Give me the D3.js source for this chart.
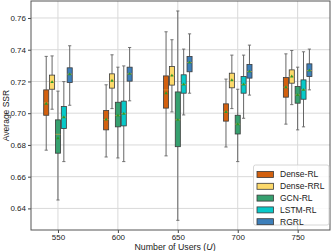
<!DOCTYPE html>
<html>
<head>
<meta charset="utf-8">
<script src="https://cdn.jsdelivr.net/npm/d3@7"></script>
<style>
  body { margin: 0; background: #fff; }
  svg { font-family: "Liberation Sans", Arial, sans-serif; }
</style>
</head>
<body>
<div id="chart"></div>
<script>
// canvas
const svgWidth = 332
const svgHeight = 251
const margin = { top: 1, right: 2, bottom: 21, left: 31 }
const width = svgWidth - margin.left - margin.right
const height = svgHeight - margin.top - margin.bottom

// data: [whisker low, q1, median, q3, whisker high] for each user count
const users = [550, 600, 650, 700, 750]
const seriesNames = ['Dense-RL', 'Dense-RRL', 'GCN-RL', 'LSTM-RL', 'RGRL']
const colors = ['#d2600f', '#fcd96b', '#36a06f', '#08c9c9', '#3d7fba']
const yTicks = [0.64, 0.66, 0.68, 0.70, 0.72, 0.74, 0.76]

const denseRL = [
  [0.6767, 0.6987, 0.7065, 0.7147, 0.7358],
  [0.6724, 0.6895, 0.6960, 0.7017, 0.7179],
  [0.6731, 0.7032, 0.7147, 0.7235, 0.7513],
  [0.6787, 0.6950, 0.7008, 0.7059, 0.7215],
  [0.6931, 0.7101, 0.7164, 0.7225, 0.7374]
]
const denseRRL = [
  [0.7025, 0.7151, 0.7196, 0.7240, 0.7361],
  [0.7029, 0.7158, 0.7204, 0.7248, 0.7368],
  [0.7008, 0.7177, 0.7237, 0.7294, 0.7463],
  [0.7029, 0.7160, 0.7208, 0.7252, 0.7366],
  [0.7054, 0.7189, 0.7231, 0.7273, 0.7395]
]
const gcnRL = [
  [0.6453, 0.6748, 0.6867, 0.6958, 0.7139],
  [0.6718, 0.6914, 0.6985, 0.7069, 0.7290],
  [0.6325, 0.6789, 0.6958, 0.7134, 0.7644],
  [0.6695, 0.6869, 0.6931, 0.6987, 0.7151],
  [0.6895, 0.7063, 0.7115, 0.7168, 0.7290]
]
const lstmRL = [
  [0.6695, 0.6903, 0.6975, 0.7042, 0.7199],
  [0.6695, 0.6920, 0.6997, 0.7076, 0.7298],
  [0.6989, 0.7126, 0.7181, 0.7242, 0.7404],
  [0.6968, 0.7126, 0.7181, 0.7231, 0.7366],
  [0.6914, 0.7088, 0.7147, 0.7210, 0.7387]
]
const rgrl = [
  [0.7050, 0.7193, 0.7246, 0.7286, 0.7425],
  [0.7078, 0.7202, 0.7248, 0.7290, 0.7414],
  [0.7126, 0.7261, 0.7319, 0.7357, 0.7500],
  [0.7114, 0.7221, 0.7263, 0.7307, 0.7429],
  [0.7147, 0.7231, 0.7269, 0.7311, 0.7404]
]
const means = [
  [0.7059, 0.7196, 0.6842, 0.6975, 0.7246],
  [0.6960, 0.7204, 0.6985, 0.6997, 0.7248],
  [0.7126, 0.7237, 0.6958, 0.7181, 0.7319],
  [0.7008, 0.7208, 0.6931, 0.7181, 0.7263],
  [0.7164, 0.7231, 0.7115, 0.7147, 0.7269]
]
const allSeries = [denseRL, denseRRL, gcnRL, lstmRL, rgrl]

const svg = d3.select('#chart').append('svg').attr('width', svgWidth).attr('height', svgHeight)
const chartGroup = svg.append('g').attr('transform', `translate(${margin.left}, ${margin.top})`)

// scales
const x = d3.scaleLinear().domain([527.5, 777]).range([0, width])
const y = d3.scaleLinear().domain([0.6264, 0.7707]).range([height, 0])
const offset = d3.scaleBand().domain(seriesNames).range([-12.25, 12.25])
const boxW = x(offset.bandwidth()) - x(0)

// grid
chartGroup.append('g').selectAll('line').data(yTicks).enter().append('line')
  .attr('x1', 0).attr('x2', width).attr('y1', d => y(d)).attr('y2', d => y(d))
  .attr('stroke', '#d9d9d9').attr('stroke-width', 1)
chartGroup.append('g').selectAll('line').data(users).enter().append('line')
  .attr('y1', 0).attr('y2', height).attr('x1', d => x(d)).attr('x2', d => x(d))
  .attr('stroke', '#d9d9d9').attr('stroke-width', 1)

// axes
const bottomAxis = d3.axisBottom(x).tickValues(users).tickSize(3).tickPadding(1)
const leftAxis = d3.axisLeft(y).tickValues(yTicks).tickFormat(d3.format('.2f')).tickSize(3).tickPadding(2)
const xAxisG = chartGroup.append('g').attr('transform', `translate(0, ${height})`).call(bottomAxis)
const yAxisG = chartGroup.append('g').call(leftAxis)
;[xAxisG, yAxisG].forEach(g => {
  g.select('.domain').remove()
  g.selectAll('.tick line').attr('stroke', '#444')
  g.selectAll('.tick text').attr('fill', '#222').style('font-size', '8px')
})

// boxes
const rows = []
allSeries.forEach((s, si) => {
  s.forEach((v, gi) => {
    rows.push({ name: seriesNames[si], color: colors[si], user: users[gi], v: v, mean: means[gi][si] })
  })
})

const boxG = chartGroup.selectAll('.box').data(rows).enter().append('g').attr('class', 'box')
  .attr('transform', d => `translate(${x(d.user + offset(d.name) + offset.bandwidth() / 2)}, 0)`)

boxG.append('line').attr('x1', 0).attr('x2', 0)
  .attr('y1', d => y(d.v[0])).attr('y2', d => y(d.v[1]))
  .attr('stroke', '#555').attr('stroke-width', 0.9)
boxG.append('line').attr('x1', 0).attr('x2', 0)
  .attr('y1', d => y(d.v[3])).attr('y2', d => y(d.v[4]))
  .attr('stroke', '#555').attr('stroke-width', 0.9)
boxG.selectAll('.cap').data(d => [d.v[0], d.v[4]]).enter().append('line')
  .attr('x1', -1.6).attr('x2', 1.6).attr('y1', d => y(d)).attr('y2', d => y(d))
  .attr('stroke', '#666').attr('stroke-width', 0.9)
boxG.append('rect')
  .attr('x', -boxW / 2 + 0.4).attr('width', boxW - 0.8)
  .attr('y', d => y(d.v[3])).attr('height', d => y(d.v[1]) - y(d.v[3]))
  .attr('fill', d => d.color).attr('stroke', '#3a3a3a').attr('stroke-width', 0.8)
boxG.append('line')
  .attr('x1', -boxW / 2 + 0.4).attr('x2', boxW / 2 - 0.4)
  .attr('y1', d => y(d.v[2])).attr('y2', d => y(d.v[2]))
  .attr('stroke', '#e8a040').attr('stroke-width', 0.8).attr('opacity', 0.8)
boxG.append('path')
  .attr('d', d3.symbol(d3.symbolTriangle, 5))
  .attr('transform', d => `translate(0, ${y(d.mean)})`)
  .attr('fill', '#2a9a2a')

// frame
chartGroup.append('rect').attr('width', width).attr('height', height)
  .attr('fill', 'none').attr('stroke', '#555').attr('stroke-width', 1)

// labels
svg.append('text').attr('x', 175).attr('y', 250)
  .attr('text-anchor', 'middle').style('font-size', '8.8px').attr('fill', '#222')
  .html('Number of Users (<tspan font-style="italic">U</tspan>)')
svg.append('text').attr('transform', `translate(9, ${margin.top + height / 2}) rotate(-90)`)
  .attr('text-anchor', 'middle').style('font-size', '8.5px').attr('fill', '#222')
  .text('Average SSR')

// legend
const legend = chartGroup.append('g').attr('transform', `translate(${253.5 - margin.left}, ${165 - margin.top})`)
legend.append('rect').attr('width', 75.5).attr('height', 60).attr('rx', 2)
  .attr('fill', '#fff').attr('fill-opacity', 0.85).attr('stroke', '#ccc').attr('stroke-width', 0.8)
const item = legend.selectAll('.item').data(seriesNames).enter().append('g')
  .attr('transform', (d, i) => `translate(3.5, ${6.5 + i * 11.8})`)
item.append('rect').attr('width', 16.5).attr('height', 6)
  .attr('fill', (d, i) => colors[i]).attr('stroke', '#3a3a3a').attr('stroke-width', 0.8)
item.append('text').attr('x', 23).attr('y', 3).attr('dy', '0.35em')
  .style('font-size', '8.5px').attr('fill', '#222').text(d => d)
</script>
</body>
</html>
